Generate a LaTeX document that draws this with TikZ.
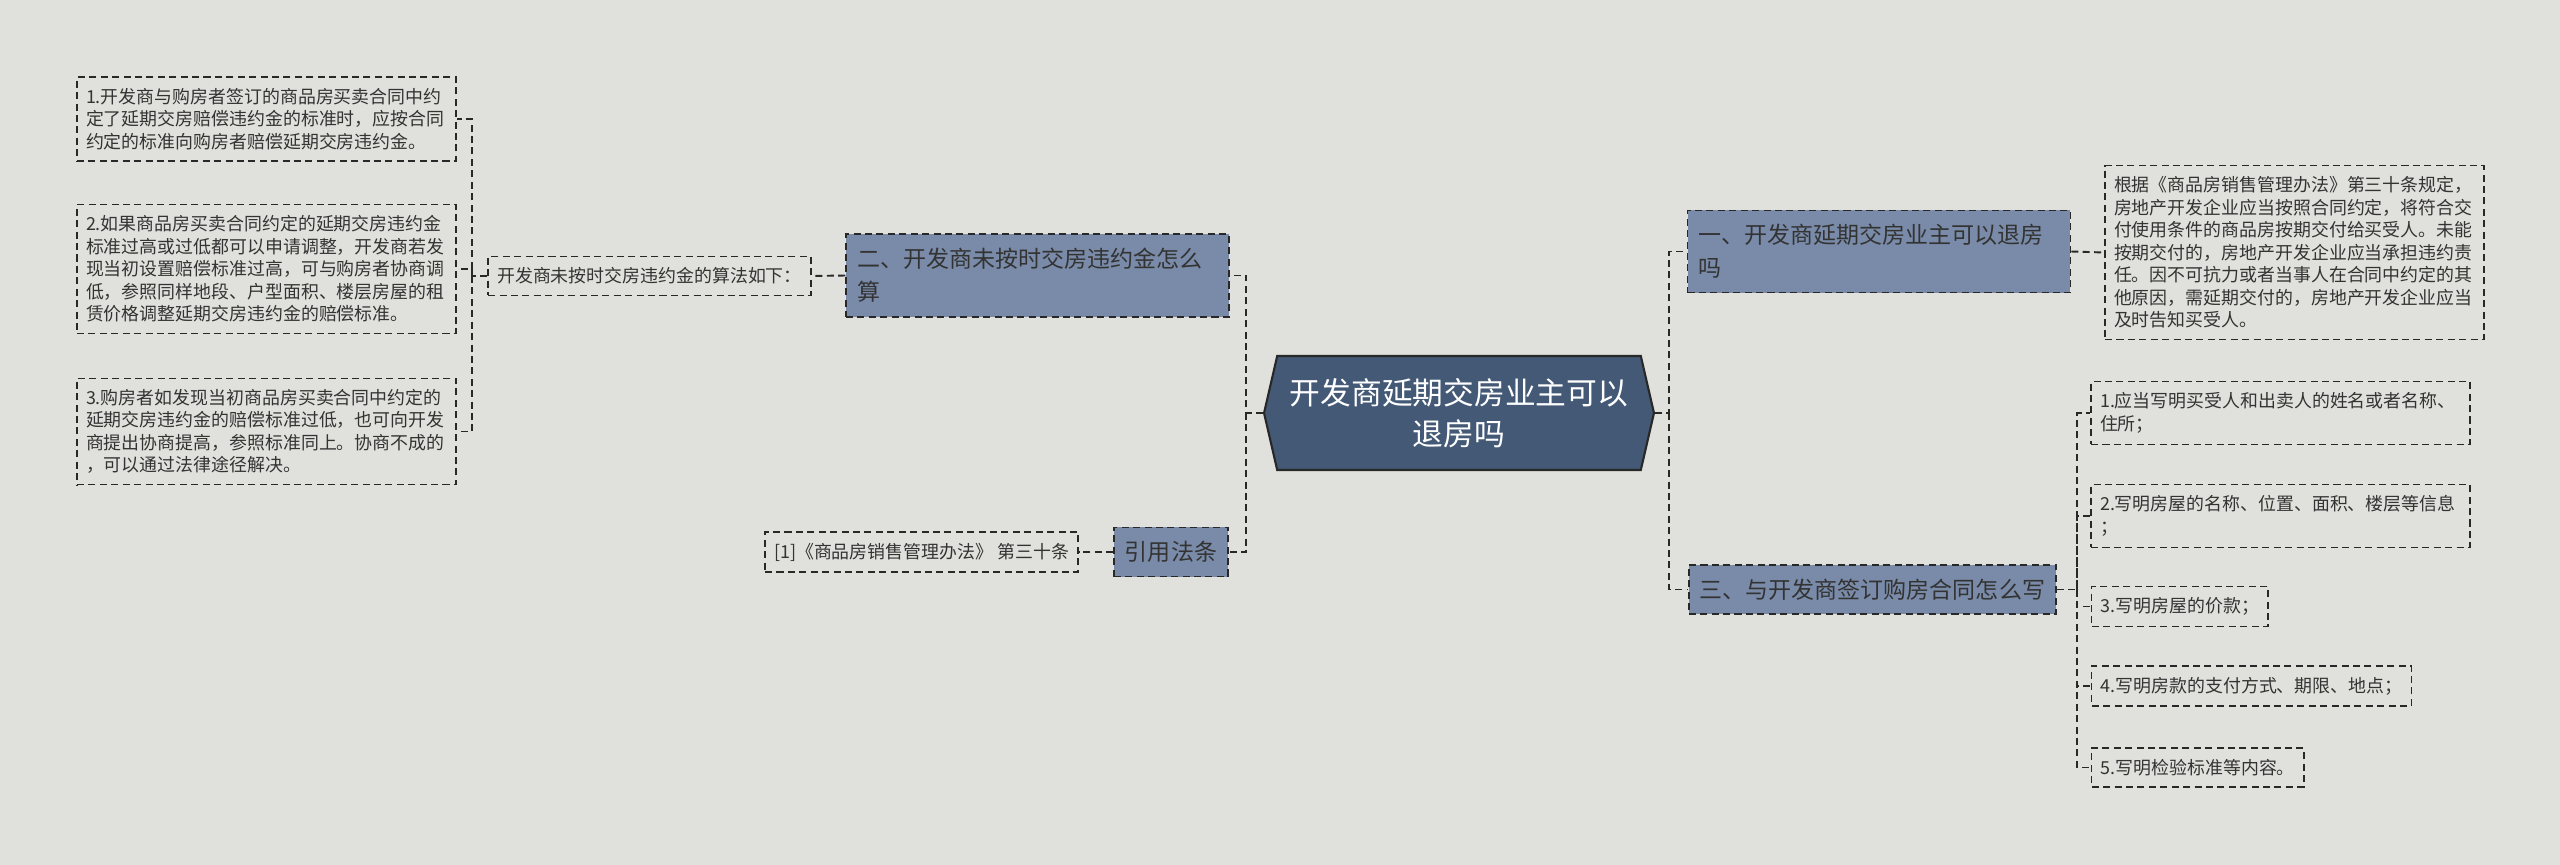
\documentclass[tikz,border=0pt]{standalone}
\usepackage{fontspec}
\setmainfont{Noto Sans CJK SC}
\usetikzlibrary{shapes.symbols}
\definecolor{bgcol}{RGB}{224,224,220}
\definecolor{rootcol}{RGB}{67,89,118}
\definecolor{branchcol}{RGB}{121,139,168}
\definecolor{linecol}{RGB}{40,40,40}
\definecolor{txtcol}{RGB}{51,51,51}

\begin{document}
\begin{tikzpicture}[x=0.02cm, y=-0.02cm,
	root/.style={signal, signal to=west and east, signal pointer angle=154, draw=linecol, line width=1.2pt, fill=rootcol, text=white, align=center, minimum width=7.8cm, minimum height=2.28cm, font=\fontsize{17.5pt}{23.3pt}\selectfont},
	branch/.style={rectangle, draw=linecol, dash pattern=on 4pt off 2.5pt, line width=0.9pt, fill=branchcol, text=txtcol, align=left, inner xsep=0.22cm, inner ysep=0.28cm, font=\fontsize{13.1pt}{18.8pt}\selectfont},
	leaf/.style={rectangle, draw=linecol, dash pattern=on 4pt off 2.5pt, line width=0.8pt, text=txtcol, align=left, inner xsep=0.18cm, inner ysep=0.22cm, font=\fontsize{10.2pt}{12.8pt}\selectfont},
	link/.style={draw=linecol, dash pattern=on 4pt off 2.5pt, line width=1.1pt}]
	\fill[bgcol] (0,0) rectangle (2560,865);
	\useasboundingbox (0,0) rectangle (2560,865);

	\node (root) [root] at (1459,413) {开发商延期交房业主可以\\退房吗};

	% left side
	\node (suan) [branch, text width=7.22cm] at (1037.5,275.5) {二、开发商未按时交房违约金怎么\\算};
	\node (fatiao) [branch] at (1171,552) {引用法条};
	\node (algo) [leaf] at (649.5,276) {开发商未按时交房违约金的算法如下：};
	\node (l1) [leaf, text width=7.22cm] at (266.5,119) {1.开发商与购房者签订的商品房买卖合同中约\\定了延期交房赔偿违约金的标准时，应按合同\\约定的标准向购房者赔偿延期交房违约金。};
	\node (l2) [leaf, text width=7.22cm] at (266.5,269) {2.如果商品房买卖合同约定的延期交房违约金\\标准过高或过低都可以申请调整，开发商若发\\现当初设置赔偿标准过高，可与购房者协商调\\低，参照同样地段、户型面积、楼层房屋的租\\赁价格调整延期交房违约金的赔偿标准。};
	\node (l3) [leaf, text width=7.22cm] at (266.5,431.5) {3.购房者如发现当初商品房买卖合同中约定的\\延期交房违约金的赔偿标准过低，也可向开发\\商提出协商提高，参照标准同上。协商不成的\\，可以通过法律途径解决。};
	\node (cite) [leaf] at (921.5,552) {[1]《商品房销售管理办法》 第三十条};

	% right side
	\node (tuifang) [branch, text width=7.22cm] at (1879,251.5) {一、开发商延期交房业主可以退房\\吗};
	\node (guiding) [leaf, text width=7.22cm] at (2294.5,252.5) {根据《商品房销售管理办法》第三十条规定，\\房地产开发企业应当按照合同约定，将符合交\\付使用条件的商品房按期交付给买受人。未能\\按期交付的，房地产开发企业应当承担违约责\\任。因不可抗力或者当事人在合同中约定的其\\他原因，需延期交付的，房地产开发企业应当\\及时告知买受人。};
	\node (hetong) [branch, anchor=west] at (1688,589.5) {三、与开发商签订购房合同怎么写};
	\node (s1) [leaf, text width=7.22cm] at (2280.5,413) {1.应当写明买受人和出卖人的姓名或者名称、\\住所；};
	\node (s2) [leaf, text width=7.22cm] at (2280.5,516) {2.写明房屋的名称、位置、面积、楼层等信息\\；};
	\node (s3) [leaf, anchor=west] at (2091,606.5) {3.写明房屋的价款；};
	\node (s4) [leaf, anchor=west] at (2091,686) {4.写明房款的支付方式、期限、地点；};
	\node (s5) [leaf, anchor=west] at (2091,767.5) {5.写明检验标准等内容。};

	\coordinate (lspine) at (1246,413);
	\coordinate (rspine) at (1669,413);
	\coordinate (aspine) at (472,276);
	\coordinate (hspine) at (2077,589.5);

	\draw[link] (root.west) -- (lspine) |- (suan.east);
	\draw[link] (lspine) |- (fatiao.east);
	\draw[link] (suan.west) -- (algo.east);
	\draw[link] (algo.west) -- (aspine) |- (l1.east);
	\draw[link] (aspine) |- (l2.east);
	\draw[link] (aspine) |- (l3.east);
	\draw[link] (fatiao.west) -- (cite.east);

	\draw[link] (root.east) -- (rspine) |- (tuifang.west);
	\draw[link] (rspine) |- (hetong.west);
	\draw[link] (tuifang.east) -- (guiding.west);
	\draw[link] (hetong.east) -- (hspine) |- (s1.west);
	\draw[link] (hspine) |- (s2.west);
	\draw[link] (hspine) |- (s3.west);
	\draw[link] (hspine) |- (s4.west);
	\draw[link] (hspine) |- (s5.west);
\end{tikzpicture}
\end{document}
